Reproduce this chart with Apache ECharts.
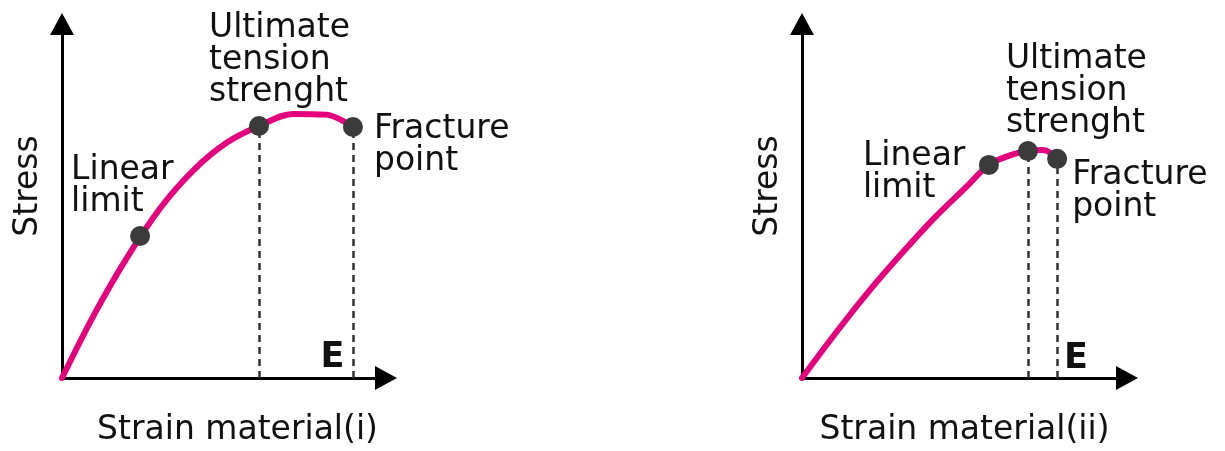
<!DOCTYPE html>
<html><head><meta charset="utf-8">
<script src="https://cdn.jsdelivr.net/npm/echarts/dist/echarts.min.js"></script>
<style>html,body{margin:0;padding:0;background:#fff}#c{width:1225px;height:451px}</style>
</head><body><div id="c"></div>
<script>
// ---- data (arbitrary units, 0-100 on both axes) ----
const curveX1 = [0, 10.2, 20.4, 30.6, 40.7, 50.9, 61.1, 71.3, 81.5, 89.8];
const curveY1 = [0, 18.4, 34.5, 48.3, 58.8, 66.5, 71.3, 74.6, 74.4, 70.9];
const keyX1 = [24.1, 60.8, 89.8];
const keyY1 = [40.1, 71.2, 70.9];

const curveX2 = [0, 10.2, 20.3, 30.5, 40.6, 50.8, 57.5, 64.0, 69.5, 74.2, 78.5];
const curveY2 = [0, 12.5, 24.2, 35.0, 45.1, 54.2, 60.2, 62.9, 64.1, 64.4, 61.9];
const keyX2 = [57.5, 69.5, 78.5];
const keyY2 = [60.2, 64.1, 61.9];

const keyNames = ['Linear\nlimit', 'Ultimate\ntension\nstrenght', 'Fracture\npoint'];
const xAxisNames = ['Strain material(i)', 'Strain material(ii)'];
const yAxisName = 'Stress';
const endMark = 'E';

// ---- layout / style ----
const FONT = '"DejaVu Sans", sans-serif';
const TXT = '#111';
const labelOffsets = [
  [[-59, -72], [-40, -104], [31, -4]],
  [[-116, -14], [-12, -98], [25, 11]]
];
const grids = [
  {left: 62, top: 24, width: 324, height: 354},
  {left: 802, top: 24, width: 325, height: 354}
];
const xNamePad = [[0, 0, 0, 27], [0, 0, 0, 0]];
const yNameGap = [18, 18];
const ePos = [[332.5, 358], [1076, 358.5]];

const chart = echarts.init(document.getElementById('c'), null, {renderer: 'canvas'});

const axisLine = {
  show: true, onZero: true,
  symbol: ['none', 'triangle'], symbolSize: [24, 22],
  lineStyle: {color: '#000', width: 3}
};

const curves = [[curveX1, curveY1], [curveX2, curveY2]];
const keys = [[keyX1, keyY1], [keyX2, keyY2]];

const xAxis = [], yAxis = [], series = [];
for (let i = 0; i < 2; i++) {
  xAxis.push({
    type: 'value', gridIndex: i, min: 0, max: 100,
    axisLine, axisTick: {show: false}, axisLabel: {show: false}, splitLine: {show: false},
    name: xAxisNames[i], nameLocation: 'middle', nameGap: 36.6,
    nameTextStyle: {fontFamily: FONT, fontSize: 33, color: TXT, lineHeight: 32, padding: xNamePad[i]}
  });
  yAxis.push({
    type: 'value', gridIndex: i, min: 0, max: 100,
    axisLine, axisTick: {show: false}, axisLabel: {show: false}, splitLine: {show: false},
    name: yAxisName, nameLocation: 'middle', nameGap: yNameGap[i], nameRotate: 90,
    nameTextStyle: {fontFamily: FONT, fontSize: 33, color: TXT, lineHeight: 32, padding: [0, 0, 0, 30]}
  });
  const [cx, cy] = curves[i];
  series.push({
    type: 'line', xAxisIndex: i, yAxisIndex: i, silent: true, z: 2,
    data: cx.map((x, j) => [x, cy[j]]),
    smooth: 0.35, showSymbol: false,
    lineStyle: {color: '#e5007d', width: 6, cap: 'round', join: 'round'}
  });
  const [kx, ky] = keys[i];
  series.push({
    type: 'scatter', xAxisIndex: i, yAxisIndex: i, silent: true, z: 5,
    symbolSize: 20, itemStyle: {color: '#3b3b3b', opacity: 1},
    data: kx.map((x, j) => ({
      value: [x, ky[j]],
      label: {
        show: true, position: labelOffsets[i][j], formatter: keyNames[j],
        align: 'left', verticalAlign: 'top', opacity: 1,
        fontFamily: FONT, fontSize: 33, lineHeight: 32, color: TXT
      }
    })),
    markLine: {
      silent: true, z: 3, symbol: ['none', 'none'], label: {show: false},
      lineStyle: {type: [7, 5], color: '#333', width: 2.5, opacity: 1},
      emphasis: {disabled: true},
      data: [1, 2].map(j => [{coord: [kx[j], 0]}, {coord: [kx[j], ky[j]]}])
    }
  });
}

chart.setOption({
  animation: false,
  backgroundColor: '#fff',
  grid: grids.map(g => Object.assign({containLabel: false, outerBoundsMode: 'none'}, g)),
  xAxis, yAxis, series,
  graphic: ePos.map(p => ({
    type: 'text', x: p[0], y: p[1], silent: true,
    style: {text: endMark, font: 'bold 35px ' + FONT, fill: TXT, align: 'center', verticalAlign: 'middle'}
  }))
});
</script>
</body></html>
